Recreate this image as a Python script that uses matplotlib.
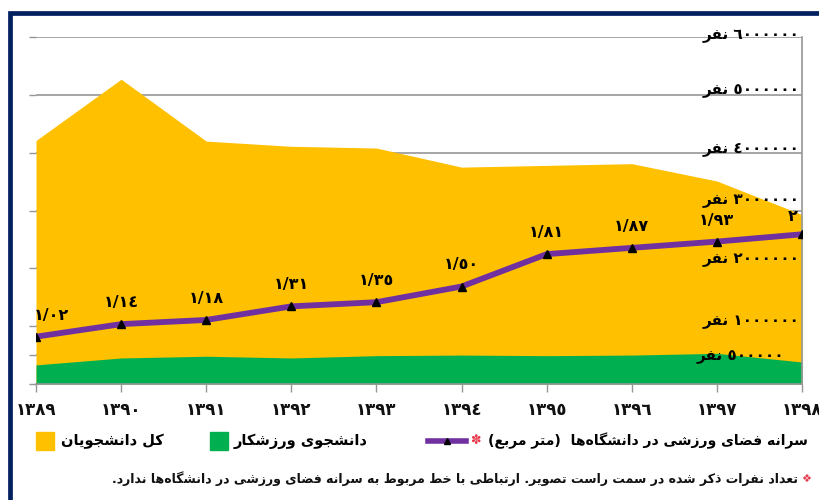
import re
import matplotlib
matplotlib.use("Agg")
import matplotlib.pyplot as plt
from matplotlib.lines import Line2D
from matplotlib.patches import Rectangle

# ---- data ----
years = [1389, 1390, 1391, 1392, 1393, 1394, 1395, 1396, 1397, 1398]
total_students = [4210000, 5270000, 4200000, 4110000, 4080000, 3750000, 3780000, 3810000, 3510000, 2930000]
athlete_students = [330000, 450000, 480000, 450000, 490000, 500000, 490000, 500000, 530000, 380000]
sport_space = [1.02, 1.14, 1.18, 1.31, 1.35, 1.50, 1.81, 1.87, 1.93, 2.0]
space_labels = ["1/02", "1/14", "1/18", "1/31", "1/35", "1/50", "1/81", "1/87", "1/93", "2"]
people_ticks = [0, 500000, 1000000, 2000000, 3000000, 4000000, 5000000, 6000000]
people_labeled = [500000, 1000000, 2000000, 3000000, 4000000, 5000000, 6000000]

lbl_total = "کل دانشجویان"
lbl_athlete = "دانشجوی ورزشکار"
lbl_space = "سرانه فضای ورزشی در دانشگاه\u200cها  (متر مربع)"
note = "تعداد نفرات ذکر شده در سمت راست تصویر. ارتباطی با خط مربوط به سرانه فضای ورزشی در دانشگاه\u200cها ندارد."

YELLOW = "#FFC000"
GREEN = "#00B050"
PURPLE = "#7030A0"
GRAY = "#969696"
NAVY = "#002060"
RED = "#E8374A"

# ---- minimal arabic/persian shaping (matplotlib has no RTL support) ----
DUAL = {'ب': 0xFE8F, 'ت': 0xFE95, 'ث': 0xFE99, 'ج': 0xFE9D, 'ح': 0xFEA1, 'خ': 0xFEA5,
        'س': 0xFEB1, 'ش': 0xFEB5, 'ص': 0xFEB9, 'ض': 0xFEBD, 'ط': 0xFEC1, 'ظ': 0xFEC5,
        'ع': 0xFEC9, 'غ': 0xFECD, 'ف': 0xFED1, 'ق': 0xFED5, 'ل': 0xFEDD, 'م': 0xFEE1,
        'ن': 0xFEE5, 'ه': 0xFEE9, 'ي': 0xFEF1, 'پ': 0xFB56, 'چ': 0xFB7A, 'ک': 0xFB8E,
        'گ': 0xFB92, 'ی': 0xFBFC}
RIGHT = {'ا': 0xFE8D, 'د': 0xFEA9, 'ذ': 0xFEAB, 'ر': 0xFEAD, 'ز': 0xFEAF, 'و': 0xFEED,
         'ژ': 0xFB8A, 'آ': 0xFE81}
DIGITS = str.maketrans("0123456789", "٠١٢٣٤٥٦٧٨٩")
NUM = r"[0-9٠-٩]+(?:[/.][0-9٠-٩]+)*"


def fa_num(s):
    return str(s).translate(DIGITS)


def rtl(text):
    out = []
    for i, ch in enumerate(text):
        if ch in DUAL or ch in RIGHT:
            prev = i > 0 and text[i - 1] in DUAL
            nxt = ch in DUAL and i + 1 < len(text) and (text[i + 1] in DUAL or text[i + 1] in RIGHT)
            base = DUAL.get(ch, RIGHT.get(ch))
            if prev and nxt:
                k = 3
            elif prev:
                k = 1
            elif nxt:
                k = 2
            else:
                k = 0
            out.append(chr(base + k))
        elif ch != '\u200c':
            out.append(ch)
    parts = re.split("(" + NUM + ")", "".join(out))
    vis = []
    for p in reversed(parts):
        if p and re.fullmatch(NUM, p):
            vis.append(p)
        else:
            vis.append(p[::-1].translate(str.maketrans("()", ")(")))
    return "".join(vis)


plt.rcParams['font.family'] = ['DejaVu Sans']

fig = plt.figure(figsize=(8.19, 5.0), dpi=100)
ax = fig.add_axes([36 / 819, 116 / 500, 766 / 819, 347 / 500])

ax.fill_between(years, total_students, color=YELLOW, lw=0, zorder=1)
ax.fill_between(years, athlete_students, color=GREEN, lw=0, zorder=1.1)

ax.set_xlim(years[0], years[-1])
ax.set_ylim(0, 6000000)
ax.set_yticks(people_ticks)
ax.yaxis.tick_right()
ax.tick_params(axis='y', which='both', length=5, color=GRAY, labelright=False, width=1)
ax.set_axisbelow(True)
ax.yaxis.grid(True, color=GRAY, lw=1.2)
for s in ('left', 'top'):
    ax.spines[s].set_visible(False)
for s in ('right', 'bottom'):
    ax.spines[s].set_color(GRAY)
    ax.spines[s].set_linewidth(1.2)

ax.set_xticks(years)
ax.set_xticklabels([fa_num(y) for y in years], fontsize=12, fontweight='bold', color='#111111')
ax.tick_params(axis='x', length=6, color=GRAY, width=1, pad=6)

# people labels sit just above their gridlines, right aligned inside the plot
label_lift = {500000: -1, 1000000: 5, 2000000: 9, 3000000: 10, 4000000: 4, 5000000: 4, 6000000: 2}
for v in people_labeled:
    ax.annotate(rtl(fa_num(v) + " نفر"), (years[-1], v),
                xytext=(-13 if v == 500000 else -2, label_lift[v] * 0.72), textcoords='offset points',
                ha='right', va='center', fontsize=11, fontweight='bold', color='black')

# secondary scale for the per-capita line
ax2 = ax.twinx()
ax2.set_ylim(0.567, 3.888)
ax2.axis('off')
ax2.plot(years, sport_space, color=PURPLE, lw=4.2, zorder=3,
         marker='^', markersize=5.5, markerfacecolor='black', markeredgecolor='black')
for i, (x, v) in enumerate(zip(years, sport_space)):
    dx, dy = 0, 15.5
    if i == 0:
        dx = 11
    if i == len(years) - 1:
        dx, dy = -7, 12.5
    ax2.annotate(fa_num(space_labels[i]), (x, v), xytext=(dx, dy), textcoords='offset points',
                 ha='center', va='center', fontsize=11.5, fontweight='bold', color='black')


# legend built by hand to match the layout
def px(x, y):
    return x / 819, 1 - y / 500


fig.add_artist(Rectangle(px(36, 450), 18 / 819, 18 / 500, transform=fig.transFigure, color=YELLOW))
fig.text(*px(61, 441), rtl(lbl_total), ha='left', va='center', fontsize=10.5, fontweight='bold')
fig.add_artist(Rectangle(px(210, 450), 18 / 819, 18 / 500, transform=fig.transFigure, color=GREEN))
fig.text(*px(234, 441), rtl(lbl_athlete), ha='left', va='center', fontsize=10.5, fontweight='bold')
lx0, ly0 = px(428, 441)
lx1, _ = px(466, 441)
fig.add_artist(Line2D([lx0, lx1], [ly0, ly0], transform=fig.transFigure, color=PURPLE, lw=4))
fig.add_artist(Line2D([(lx0 + lx1) / 2], [ly0], transform=fig.transFigure, marker='^',
                      markersize=4, color='black', lw=0))
fig.text(*px(476, 441), "\u273d", ha='center', va='center', fontsize=9, color=RED)
fig.text(*px(808, 441), rtl(lbl_space), ha='right', va='center', fontsize=10.1, fontweight='bold')

fig.text(*px(806, 479), "\u2756", ha='center', va='center', fontsize=8, color=RED)
fig.text(*px(798, 479), rtl(note), ha='right', va='center', fontsize=9.0, fontweight='bold',
         color='#111111')

# navy frame (top and left edges visible)
fig.add_artist(Line2D([9.5 / 819, 9.5 / 819, 1.02], [-0.02, 1 - 12.5 / 500, 1 - 12.5 / 500],
                      transform=fig.transFigure, color=NAVY, lw=3.4, solid_joinstyle='miter'))

fig.savefig("out.png", dpi=100)
